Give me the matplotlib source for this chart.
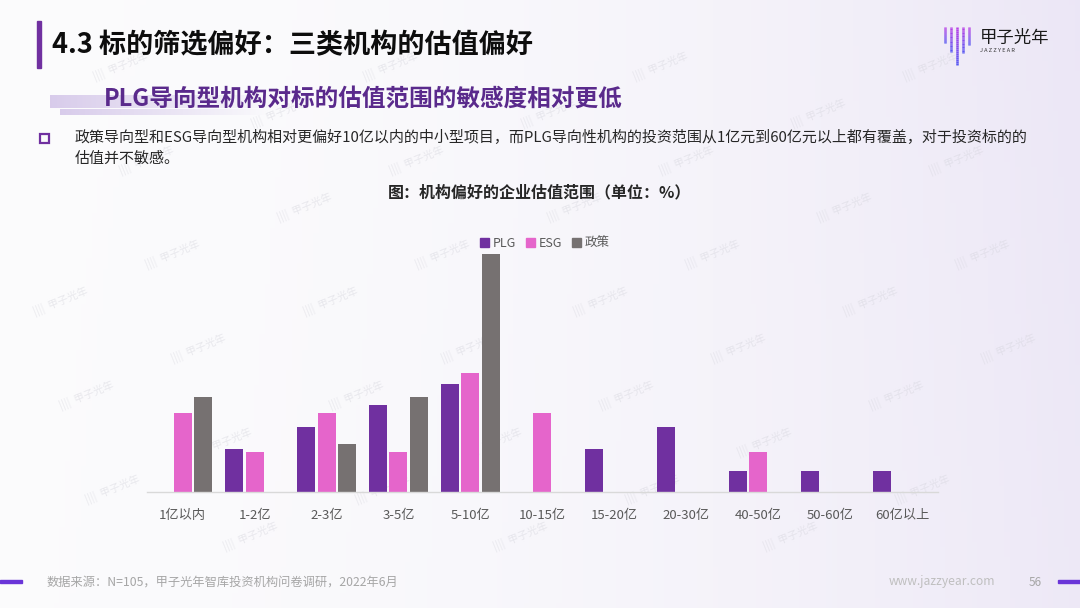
import numpy as np
import matplotlib
matplotlib.use('Agg')
from matplotlib import pyplot
from matplotlib.patches import Rectangle, Patch

pyplot.rcParams['font.family'] = ['Noto Sans CJK SC', 'DejaVu Sans']

# data (% of each investor type, N=105 survey)
categories = ['1亿以内', '1-2亿', '2-3亿', '3-5亿', '5-10亿', '10-15亿',
              '15-20亿', '20-30亿', '40-50亿', '50-60亿', '60亿以上']
plg = [0, 9.1, 13.6, 18.2, 22.7, 0, 9.1, 13.6, 4.5, 4.5, 4.5]
esg = [16.7, 8.3, 16.7, 8.3, 25.0, 16.7, 0, 0, 8.3, 0, 0]
policy = [20, 0, 10, 20, 50, 0, 0, 0, 0, 0, 0]
series_names = ['PLG', 'ESG', '政策']
colors = ['#7030A0', '#E565CB', '#767171']

W, H = 1080, 608
figure = pyplot.figure(figsize=(W / 100, H / 100), dpi=100)

# background: white on the left, pale lavender towards the right
bg = figure.add_axes([0, 0, 1, 1], zorder=0)
gx, gy = np.meshgrid(np.linspace(0, 1, 200), np.linspace(0, 1, 120))
t = np.clip(gx ** 2.2 * (0.75 + 0.25 * (1 - gy)) + 0.15 * gx * gy, 0, 1)
left = np.array([0.985, 0.985, 0.99])
right = np.array([0.925, 0.905, 0.965])
img = left[None, None, :] * (1 - t[..., None]) + right[None, None, :] * t[..., None]
bg.imshow(img, extent=(0, W, H, 0), aspect='auto', zorder=0)

# watermarks
for row in range(-6, 10):
    for k in range(-2, 6):
        wx = 173 + 270 * k + (row % 2) * 145 + row * 13
        wy = 255 + 47 * row
        if 45 < wx < W - 45 and 25 < wy < H - 25:
            bg.text(wx, wy, '||||  甲子光年', fontsize=7.5, color='#d2d2da', alpha=0.45,
                    rotation=22, ha='center', va='center', zorder=1)

# header
bg.add_patch(Rectangle((37, 21), 3.5, 47, color='#7030A0', zorder=3))
bg.text(52, 45, '4.3 标的筛选偏好：三类机构的估值偏好', fontsize=19.5, fontweight='bold',
        color='#0d0d0d', va='center', ha='left', zorder=3)

# subtitle band
band_img = np.ones((1, 100, 4))
band_img[..., :3] = [0.84, 0.79, 0.92]
band_img[..., 3] = np.linspace(0.95, 0, 100)
bg.imshow(band_img, extent=(50, 280, 108, 95), aspect='auto', zorder=2)
bg.imshow(band_img, extent=(60, 270, 115, 109), aspect='auto', zorder=2)
bg.set_xlim(0, W)
bg.set_ylim(H, 0)
bg.axis('off')
bg.text(104, 99, 'PLG导向型机构对标的估值范围的敏感度相对更低', fontsize=17, fontweight='bold',
        color='#5a2a8c', va='center', ha='left', zorder=3)

# bullet text
bg.add_patch(Rectangle((40, 133.5), 9, 9, fill=False, edgecolor='#7030A0', linewidth=1.6, zorder=3))
bg.text(75, 138, '政策导向型和ESG导向型机构相对更偏好10亿以内的中小型项目，而PLG导向性机构的投资范围从1亿元到60亿元以上都有覆盖，对于投资标的的',
        fontsize=10.8, color='#262626', va='center', ha='left', zorder=3)
bg.text(75, 159, '估值并不敏感。', fontsize=10.8, color='#262626', va='center', ha='left', zorder=3)

bg.text(540, 192, '图：机构偏好的企业估值范围（单位：%）', fontsize=11.5, fontweight='bold',
        color='#262626', va='center', ha='center', zorder=3)

# logo
logo_x = [945, 951, 957, 963, 969]
logo_bottom = [43, 52, 65, 53, 45]
for lx, lb in zip(logo_x, logo_bottom):
    seg = np.linspace(27, lb, 20)
    for j in range(len(seg) - 1):
        f = j / (len(seg) - 1)
        c = (0.72 - 0.4 * f, 0.25 + 0.1 * f, 0.9 + 0.05 * f)
        bg.plot([lx, lx], [seg[j], seg[j + 1]], color=c, linewidth=1.8,
                solid_capstyle='butt', zorder=3)
bg.text(980, 37.5, '甲子光年', fontsize=12.5, color='#1a1a1a', va='center', ha='left', zorder=3)
bg.text(980, 50, 'J A Z Z Y E A R', fontsize=4, color='#333333', va='center', ha='left', zorder=3)

# footer
bg.add_patch(Rectangle((0, 579.5), 22, 3, color='#6a35d8', zorder=3))
bg.add_patch(Rectangle((1058, 579.5), 22, 3, color='#6a35d8', zorder=3))
bg.text(47, 582, '数据来源：N=105，甲子光年智库投资机构问卷调研，2022年6月', fontsize=8.8,
        color='#a6a6a6', va='center', ha='left', zorder=3)
bg.text(995, 582, 'www.jazzyear.com', fontsize=8.7, color='#bfbfbf', va='center', ha='right', zorder=3)
bg.text(1035, 582, '56', fontsize=8.5, color='#a6a6a6', va='center', ha='center', zorder=3)

# chart
ax = figure.add_axes([146.7 / W, (H - 492) / H, 791.3 / W, 238 / H], zorder=2)
ax.patch.set_alpha(0)
x = np.arange(len(categories))
step = 0.285
width = 0.25
for i, (vals, name, c) in enumerate(zip([plg, esg, policy], series_names, colors)):
    ax.bar(x + (i - 1) * step, vals, width, color=c, label=name, edgecolor='none')

ax.set_xlim(-0.5, len(categories) - 0.5)
ax.set_ylim(0, 50)
ax.set_yticks([])
for s in ['top', 'right', 'left']:
    ax.spines[s].set_visible(False)
ax.spines['bottom'].set_color('#d9d9d9')
ax.spines['bottom'].set_linewidth(1)
ax.set_xticks(x)
ax.set_xticklabels(categories, fontsize=9.5, color='#595959')
ax.tick_params(axis='x', length=0, pad=12)

handles = [Patch(color=c) for c in colors]
ax.legend(handles, series_names, loc='center', bbox_to_anchor=(0.503, 1.046), ncol=3,
          frameon=False, fontsize=9, handlelength=0.7, handleheight=0.7,
          handletextpad=0.3, columnspacing=0.8, labelcolor='#595959')

pyplot.savefig('out.png', dpi=100)
